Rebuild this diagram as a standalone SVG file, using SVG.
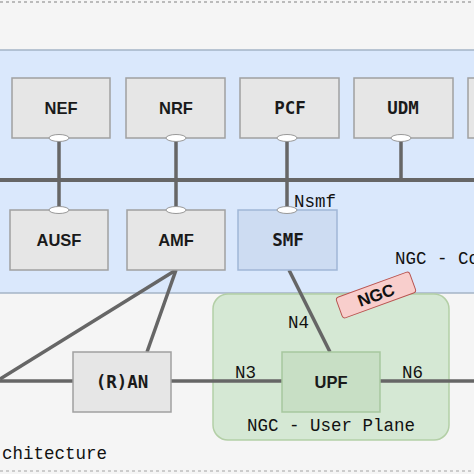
<svg xmlns="http://www.w3.org/2000/svg" width="474" height="474" viewBox="0 0 474 474">
<style>
.nf{fill:#e6e6e6;stroke:#a0a0a0;stroke-width:1.5}
.lbl{font-family:"DejaVu Sans Mono","Liberation Mono",monospace;font-weight:bold;font-size:17.5px;fill:#1a1a1a;text-anchor:middle}
.lbs{font-family:"Liberation Sans",Arial,sans-serif;font-weight:bold;font-size:16.5px;fill:#1a1a1a;text-anchor:middle}
.txt{font-family:"Liberation Mono","DejaVu Sans Mono",monospace;font-size:17.5px;fill:#111}
.ln{stroke:#666;stroke-width:3.5;fill:none}
.el{fill:#fff;stroke:#999;stroke-width:1}
</style>
<rect x="0" y="0" width="474" height="474" fill="#f5f5f5"/>
<line x1="0" y1="2" x2="474" y2="2" stroke="#bbb" stroke-width="2" stroke-dasharray="3,3"/>
<line x1="0" y1="471" x2="474" y2="471" stroke="#ccc" stroke-width="2" stroke-dasharray="3,3"/>
<g id="control-plane">
<rect x="-5" y="50" width="490" height="243" fill="#dae8fc" stroke="#a4b4c6" stroke-width="1.5"/>
<text class="txt" x="395" y="264">NGC - Control Plane</text>
</g>
<g id="user-plane">
<rect x="213" y="294" width="236" height="146" rx="15" fill="#d5e8d4" stroke="#b3cfa6" stroke-width="1.5"/>
<text class="txt" x="331" y="431" text-anchor="middle">NGC - User Plane</text>
</g>
<g id="connectors">
<line class="ln" x1="0" y1="180" x2="474" y2="180" style="stroke-width:4"/>
<line class="ln" x1="59" y1="138" x2="59" y2="180"/>
<line class="ln" x1="176" y1="138" x2="176" y2="180"/>
<line class="ln" x1="287" y1="138" x2="287" y2="180"/>
<line class="ln" x1="401" y1="138" x2="401" y2="180"/>
<line class="ln" x1="59" y1="180" x2="59" y2="210"/>
<line class="ln" x1="176" y1="180" x2="176" y2="210"/>
<line class="ln" x1="287" y1="180" x2="287" y2="210"/>
<line class="ln" x1="176" y1="270" x2="0" y2="379"/>
<line class="ln" x1="176" y1="270" x2="147" y2="352"/>
<line class="ln" x1="289" y1="270" x2="330" y2="352"/>
<line class="ln" x1="0" y1="381" x2="73" y2="381"/>
<line class="ln" x1="171" y1="381" x2="282" y2="381"/>
<line class="ln" x1="380" y1="381" x2="474" y2="381"/>
<text class="txt" x="294" y="207">Nsmf</text>
<text class="txt" x="288" y="328">N4</text>
<text class="txt" x="235" y="378">N3</text>
<text class="txt" x="402" y="378">N6</text>
</g>
<g id="NEF"><rect class="nf" x="12" y="78" width="98" height="60"/><text class="lbs" x="61" y="114">NEF</text></g>
<g id="NRF"><rect class="nf" x="126" y="78" width="99" height="60"/><text class="lbs" x="176" y="114">NRF</text></g>
<g id="PCF"><rect class="nf" x="240" y="78" width="99" height="60"/><text class="lbl" x="290" y="114">PCF</text></g>
<g id="UDM"><rect class="nf" x="354" y="78" width="99" height="60"/><text class="lbl" x="403" y="114">UDM</text></g>
<g id="NF5"><rect class="nf" x="468" y="78" width="99" height="60"/></g>
<g id="AUSF"><rect class="nf" x="10" y="210" width="98" height="60"/><text class="lbs" x="59" y="246">AUSF</text></g>
<g id="AMF"><rect class="nf" x="127" y="210" width="98" height="60"/><text class="lbs" x="176" y="246">AMF</text></g>
<g id="SMF"><rect x="238" y="210" width="99" height="60" fill="#cddcf2" stroke="#a0b6d6" stroke-width="1.5"/><text class="lbl" x="288" y="246">SMF</text></g>
<g id="RAN"><rect class="nf" x="73" y="352" width="98" height="60"/><text class="lbl" x="122" y="388">(R)AN</text></g>
<g id="UPF"><rect x="282" y="352" width="98" height="60" fill="#c8dfc5" stroke="#a7c79e" stroke-width="1.5"/><text class="lbs" x="331" y="388">UPF</text></g>
<g id="ellipses">
<ellipse class="el" cx="59" cy="138" rx="10" ry="3.5"/>
<ellipse class="el" cx="176" cy="138" rx="10" ry="3.5"/>
<ellipse class="el" cx="287" cy="138" rx="10" ry="3.5"/>
<ellipse class="el" cx="401" cy="138" rx="10" ry="3.5"/>
<ellipse class="el" cx="59" cy="210" rx="10" ry="3.5"/>
<ellipse class="el" cx="176" cy="210" rx="10" ry="3.5"/>
<ellipse class="el" cx="287" cy="210" rx="10" ry="3.5"/>
</g>
<g id="NGC-tag" transform="translate(376 295) rotate(-20)">
<rect x="-39" y="-11" width="78" height="22" rx="3" fill="#f8cecc" stroke="#b85450" stroke-width="1"/>
<text x="0" y="6" font-family="Liberation Sans, Arial, sans-serif" font-weight="bold" font-size="17" fill="#111" text-anchor="middle">NGC</text>
</g>
<text class="txt" x="2" y="459">chitecture</text>
</svg>
